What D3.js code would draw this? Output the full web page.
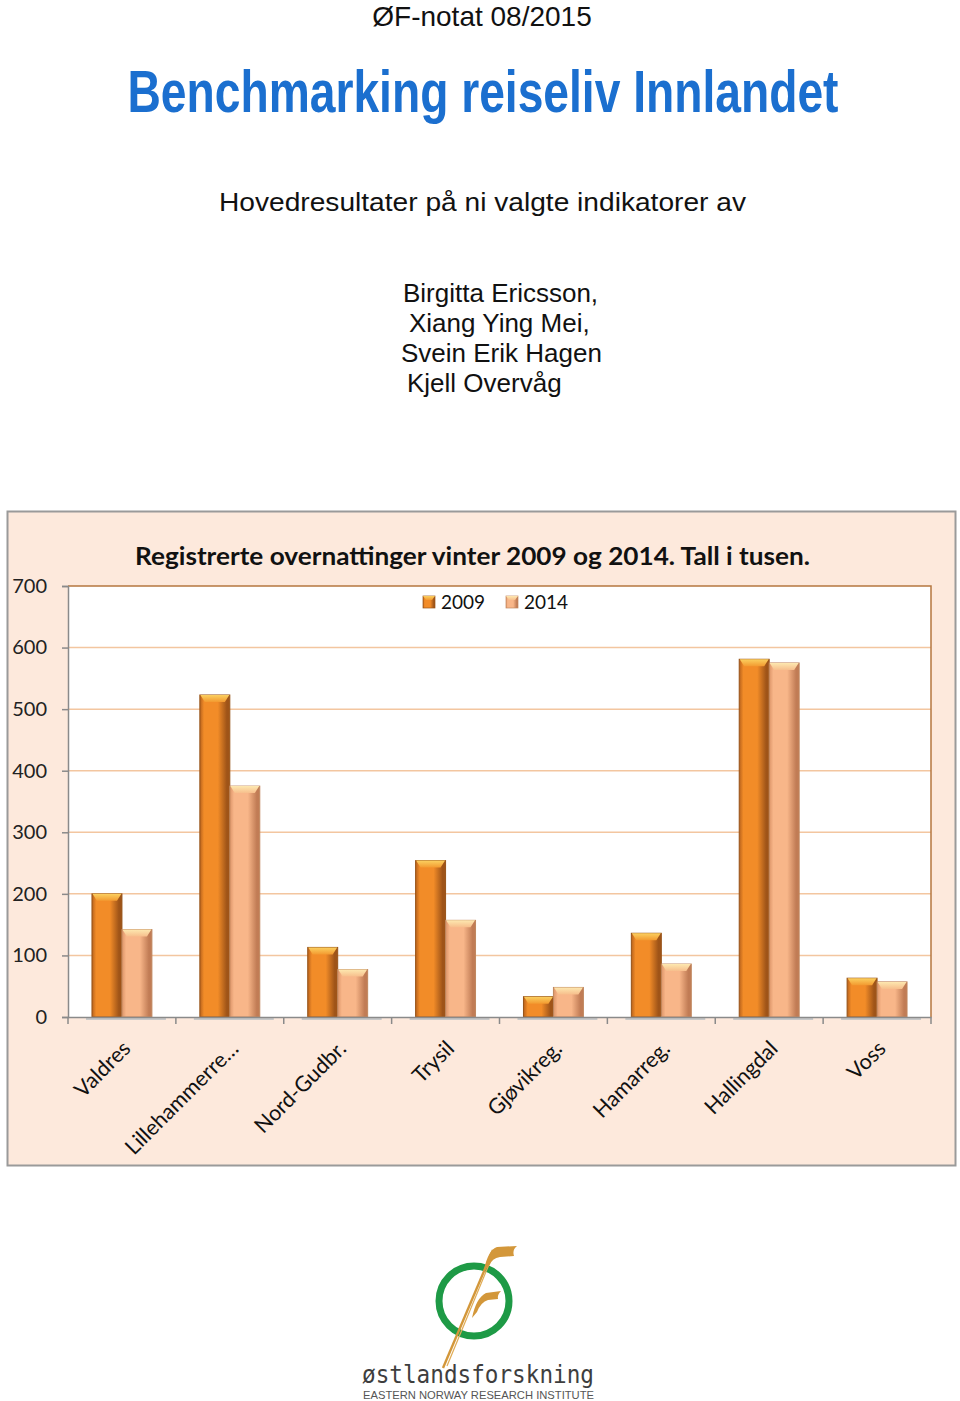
<!DOCTYPE html>
<html>
<head>
<meta charset="utf-8">
<script src="https://cdn.jsdelivr.net/npm/d3@7"></script>
<style>
  body { margin: 0; background: #fff; }
  svg { display: block; }
</style>
</head>
<body>
<div id="page"></div>
<script>

// data (thousands of overnight stays)
var regions = ["Valdres", "Lillehammerre…", "Nord-Gudbr.", "Trysil", "Gjøvikreg.", "Hamarreg.", "Hallingdal", "Voss"];
var years = ["2009", "2014"];
var values2009 = [200, 523, 113, 254, 33, 136, 581, 63];
var values2014 = [142, 375, 77, 157, 48, 86, 575, 57];
var yTicks = [0, 100, 200, 300, 400, 500, 600, 700];

var authors = ["Birgitta Ericsson,", "Xiang Ying Mei,", "Svein Erik Hagen", "Kjell Overvåg"];

var svg = d3.select("#page").append("svg")
    .attr("width", 960)
    .attr("height", 1401);

svg.append("rect").attr("width", 960).attr("height", 1401).attr("fill", "#fff");

// ---- cover texts
svg.append("text")
    .attr("x", 482).attr("y", 26)
    .attr("text-anchor", "middle")
    .style("font-family", "Liberation Sans, Arial, sans-serif")
    .style("font-size", "28px")
    .attr("fill", "#111")
    .text("ØF-notat 08/2015");

// no narrow font installed, so squeeze the bold sans horizontally
svg.append("text")
    .attr("transform", "translate(483,112) scale(0.77,1)")
    .attr("text-anchor", "middle")
    .style("font-family", "Liberation Sans Narrow, Liberation Sans, Arial, sans-serif")
    .style("font-weight", "bold")
    .style("font-size", "60px")
    .attr("fill", "#1b6fcf")
    .text("Benchmarking reiseliv Innlandet");

svg.append("text")
    .attr("x", 219).attr("y", 211)
    .attr("textLength", 527).attr("lengthAdjust", "spacingAndGlyphs")
    .style("font-family", "Liberation Sans, Arial, sans-serif")
    .style("font-size", "26px")
    .attr("fill", "#111")
    .text("Hovedresultater på ni valgte indikatorer av");

var authorX = [403, 409, 401, 407];
svg.selectAll(".author").data(authors).enter().append("text")
    .attr("class", "author")
    .attr("x", function(d, i) { return authorX[i]; })
    .attr("y", function(d, i) { return 302 + i * 30; })
    .style("font-family", "Liberation Sans, Arial, sans-serif")
    .style("font-size", "26px")
    .attr("fill", "#111")
    .text(function(d) { return d; });

// ---- chart frame
svg.append("rect")
    .attr("x", 7.5).attr("y", 511.5)
    .attr("width", 948).attr("height", 654)
    .attr("fill", "#fde9dc")
    .attr("stroke", "#9a9a9a")
    .attr("stroke-width", 2);

var plot = {left: 68, top: 586, right: 931, bottom: 1017};

var x = d3.scaleBand().domain(regions).range([plot.left, plot.right]).padding(0);
var xSub = d3.scaleBand().domain(years).range([0, x.bandwidth()]).paddingInner(0).paddingOuter(0.8);
var y = d3.scaleLinear().domain([0, 700]).range([plot.bottom, plot.top]);

svg.append("rect")
    .attr("x", plot.left).attr("y", plot.top)
    .attr("width", plot.right - plot.left).attr("height", plot.bottom - plot.top)
    .attr("fill", "#fff");

// gridlines
svg.append("g").selectAll("line")
    .data(yTicks.filter(function(d) { return d > 0 && d < 700; }))
    .enter().append("line")
    .attr("x1", plot.left).attr("x2", plot.right)
    .attr("y1", function(d) { return y(d); })
    .attr("y2", function(d) { return y(d); })
    .attr("stroke", "#f3c6a0")
    .attr("stroke-width", 1.5);

// top and right border of plot area
svg.append("path")
    .attr("d", "M" + plot.left + "," + y(700) + "H" + plot.right + "V" + y(0))
    .attr("fill", "none")
    .attr("stroke", "#b5773f")
    .attr("stroke-width", 1.5);

// ---- gradients
var defs = svg.append("defs");
var palettes = {
  "2009": {edgeL: "#b8621c", mid: "#f28c28", edgeR: "#9f5418", capA: "#fbd060", capB: "#f39a30", stroke: "#975318"},
  "2014": {edgeL: "#dc9468", mid: "#f8b689", edgeR: "#c17c55", capA: "#fde8b0", capB: "#f7be8c", stroke: "#c0875e"}
};
years.forEach(function(yr) {
  var p = palettes[yr];
  var g = defs.append("linearGradient").attr("id", "body" + yr)
      .attr("x1", "0").attr("x2", "1").attr("y1", "0").attr("y2", "0");
  g.append("stop").attr("offset", "0").attr("stop-color", p.edgeL);
  g.append("stop").attr("offset", "0.14").attr("stop-color", p.mid);
  g.append("stop").attr("offset", "0.6").attr("stop-color", p.mid);
  g.append("stop").attr("offset", "0.9").attr("stop-color", p.edgeR);
  g.append("stop").attr("offset", "1").attr("stop-color", p.edgeR);
  var c = defs.append("linearGradient").attr("id", "cap" + yr)
      .attr("x1", "0").attr("x2", "0").attr("y1", "0").attr("y2", "1");
  c.append("stop").attr("offset", "0").attr("stop-color", p.capA);
  c.append("stop").attr("offset", "1").attr("stop-color", p.capB);
});

// ---- bars
var rows = regions.map(function(r, i) {
  return {region: r, vals: [{year: "2009", v: values2009[i]}, {year: "2014", v: values2014[i]}]};
});

var groups = svg.append("g").selectAll("g")
    .data(rows).enter().append("g")
    .attr("transform", function(d) { return "translate(" + x(d.region) + ",0)"; });

// faint shadow line under each pair
groups.append("line")
    .attr("x1", xSub("2009") - 6)
    .attr("x2", xSub("2014") + xSub.bandwidth() + 14)
    .attr("y1", y(0) + 2).attr("y2", y(0) + 2)
    .attr("stroke", "#c8c8c8").attr("stroke-width", 2);

var bars = groups.selectAll("g.bar")
    .data(function(d) { return d.vals; })
    .enter().append("g").attr("class", "bar");

bars.append("rect")
    .attr("x", function(d) { return xSub(d.year); })
    .attr("y", function(d) { return y(d.v); })
    .attr("width", xSub.bandwidth())
    .attr("height", function(d) { return y(0) - y(d.v); })
    .attr("fill", function(d) { return "url(#body" + d.year + ")"; })
    .attr("stroke", function(d) { return palettes[d.year].stroke; })
    .attr("stroke-width", 1);

bars.append("path")
    .attr("d", function(d) {
      var bx = xSub(d.year), by = y(d.v), bw = xSub.bandwidth();
      return "M" + (bx + 0.5) + "," + by + "H" + (bx + bw - 0.5) +
             "L" + (bx + bw - 5) + "," + (by + 7) + "H" + (bx + 5) + "Z";
    })
    .attr("fill", function(d) { return "url(#cap" + d.year + ")"; });

// ---- axes
var yAxis = svg.append("g")
    .attr("transform", "translate(" + plot.left + ",0)")
    .call(d3.axisLeft(y).tickValues(yTicks).tickSize(6).tickPadding(15));
yAxis.select(".domain").attr("stroke", "#8a8a8a").attr("stroke-width", 1.5);
yAxis.selectAll(".tick line").attr("stroke", "#8a8a8a").attr("stroke-width", 1.5);
yAxis.selectAll(".tick text")
    .style("font-family", "Lato, Open Sans, sans-serif")
    .style("font-size", "20px")
    .attr("fill", "#222");

var xAxis = svg.append("g")
    .attr("transform", "translate(0," + plot.bottom + ")")
    .call(d3.axisBottom(x).tickSize(0).tickSizeOuter(0));
xAxis.select(".domain").attr("stroke", "#8a8a8a").attr("stroke-width", 1.5);
xAxis.selectAll(".tick text")
    .attr("dy", null)
    .attr("y", null)
    .attr("text-anchor", "end")
    .attr("transform", "translate(10,33) rotate(-45)")
    .style("font-family", "Lato, Open Sans, sans-serif")
    .style("font-size", "21.5px")
    .attr("fill", "#111");

// boundary ticks between categories
xAxis.append("g").selectAll("line")
    .data(regions.map(function(r) { return x(r); }).concat([x.range()[1]]))
    .enter().append("line")
    .attr("x1", function(d) { return d; })
    .attr("x2", function(d) { return d; })
    .attr("y1", 0).attr("y2", 7)
    .attr("stroke", "#8a8a8a").attr("stroke-width", 1.5);

// ---- title and legend
svg.append("text")
    .attr("x", 135).attr("y", 565)
    .attr("textLength", 675).attr("lengthAdjust", "spacingAndGlyphs")
    .style("font-family", "Lato, Open Sans, sans-serif")
    .style("font-weight", "bold")
    .style("font-size", "24px")
    .attr("fill", "#111")
    .text("Registrerte overnattinger vinter 2009 og 2014. Tall i tusen.");

var legendX = [423, 506];
var legend = svg.append("g").selectAll("g")
    .data(years).enter().append("g")
    .attr("transform", function(d, i) { return "translate(" + legendX[i] + ",596)"; });
legend.append("rect")
    .attr("width", 12).attr("height", 12)
    .attr("fill", function(d) { return "url(#body" + d + ")"; })
    .attr("stroke", function(d) { return palettes[d].stroke; })
    .attr("stroke-width", 0.7);
legend.append("path")
    .attr("d", "M0,0H12L9,4H3Z")
    .attr("fill", function(d) { return "url(#cap" + d + ")"; });
legend.append("text")
    .attr("x", 18).attr("y", 13)
    .style("font-family", "Lato, Open Sans, sans-serif")
    .style("font-size", "19px")
    .attr("fill", "#111")
    .text(function(d) { return d; });

// ---- logo
var logo = svg.append("g");
logo.append("circle")
    .attr("cx", 474).attr("cy", 1301).attr("r", 35)
    .attr("fill", "none")
    .attr("stroke", "#1e9a46")
    .attr("stroke-width", 7);
logo.append("path")
    .attr("d", "M443,1368 L493,1250")
    .attr("stroke", "#d3973a").attr("stroke-width", 2.4).attr("fill", "none");
logo.append("path")
    .attr("d", "M447,1366 L490,1262")
    .attr("stroke", "#e0ab55").attr("stroke-width", 1.2).attr("fill", "none");
logo.append("path")
    .attr("d", "M484,1270 Q488,1250 497,1247 L517,1246 Q512,1250 514,1256 L500,1257 Q492,1258 489,1266 Z")
    .attr("fill", "#d3973a");
logo.append("path")
    .attr("d", "M472,1318 Q476,1298 486,1293 L501,1291 Q497,1295 498,1299 L488,1300 Q481,1302 477,1312 Z")
    .attr("fill", "#d3973a");
logo.append("text")
    .attr("x", 362).attr("y", 1383)
    .attr("textLength", 232).attr("lengthAdjust", "spacingAndGlyphs")
    .style("font-family", "DejaVu Sans Mono, monospace")
    .style("font-size", "24px")
    .attr("fill", "#3e3e3e")
    .text("østlandsforskning");
logo.append("text")
    .attr("x", 363).attr("y", 1399)
    .attr("textLength", 231).attr("lengthAdjust", "spacingAndGlyphs")
    .style("font-family", "Liberation Sans, Arial, sans-serif")
    .style("font-size", "11px")
    .attr("fill", "#555")
    .text("EASTERN NORWAY RESEARCH INSTITUTE");

</script>
</body>
</html>
